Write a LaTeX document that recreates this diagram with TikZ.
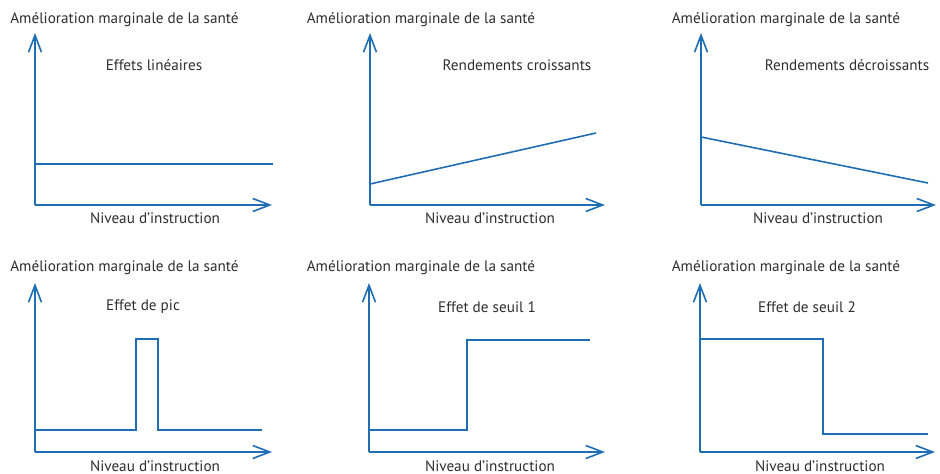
\documentclass[tikz,border=0pt]{standalone}
\usepackage{fontspec}
\setmainfont{PT Sans}
\usetikzlibrary{arrows.meta}
\definecolor{axisblue}{HTML}{1F6DB3}
\definecolor{txtgray}{HTML}{2E2E2E}
\begin{document}
\begin{tikzpicture}[x=1pt,y=-1pt,
  axis/.style={draw=axisblue,line width=1.6pt,-{Straight Barb[length=17pt,width=13pt,line width=1.6pt]}},
  curve/.style={draw=axisblue,line width=1.6pt},
  lbl/.style={text=txtgray,font=\fontsize{15.2}{18}\selectfont,inner sep=0pt}]
\useasboundingbox (0,0) rectangle (940,474);

% ---- top row ----
\foreach \n/\ox/\xe/\tx/\sx/\nx/\sub in {
  a/35/272/124.5/154/155/{Effets linéaires},
  b/370/605/421/517/490/{Rendements croissants},
  c/701/936/786/847/818/{Rendements décroissants}}{
  \coordinate (o\n) at (\ox,205);
  \coordinate (y\n) at (\ox,33);
  \coordinate (x\n) at (\xe,205);
  \node[lbl] (t\n) at (\tx,20) {Amélioration marginale de la santé};
  \node[lbl] (s\n) at (\sx,65) {\sub};
  \node[lbl] (n\n) at (\nx,218) {Niveau d’instruction};
}

% ---- bottom row ----
\foreach \n/\ox/\xe/\tx/\sx/\nx/\sub in {
  d/35/272/124.5/143/155/{Effet de pic},
  e/369/605/421/487/490/{Effet de seuil 1},
  f/700/935/786/807/820/{Effet de seuil 2}}{
  \coordinate (o\n) at (\ox,452);
  \coordinate (y\n) at (\ox,283);
  \coordinate (x\n) at (\xe,452);
  \node[lbl] (t\n) at (\tx,268) {Amélioration marginale de la santé};
  \node[lbl] (s\n) at (\sx,307) {\sub};
  \node[lbl] (n\n) at (\nx,466) {Niveau d’instruction};
}

% axes
\foreach \n in {a,b,c,d,e,f}{
  \draw[axis] (o\n) -- (y\n);
  \draw[axis] (o\n) -- (x\n);
}

% effect curves
\coordinate (a1) at (35,164);  \coordinate (a2) at (273,164);
\coordinate (b1) at (370,184); \coordinate (b2) at (596,133);
\coordinate (c1) at (701,137); \coordinate (c2) at (928,183);
\draw[curve] (a1) -- (a2);
\draw[curve] (b1) -- (b2);
\draw[curve] (c1) -- (c2);

\coordinate (d1) at (35,430);  \coordinate (d2) at (262,430);
\draw[curve] (d1) -- (136,430) -- (136,339) -- (158,339) -- (158,430) -- (d2);
\coordinate (e1) at (369,430); \coordinate (e2) at (590,340);
\draw[curve] (e1) -- (467,430) -- (467,340) -- (e2);
\coordinate (f1) at (700,339); \coordinate (f2) at (928,434);
\draw[curve] (f1) -- (823,339) -- (823,434) -- (f2);
\end{tikzpicture}
\end{document}
